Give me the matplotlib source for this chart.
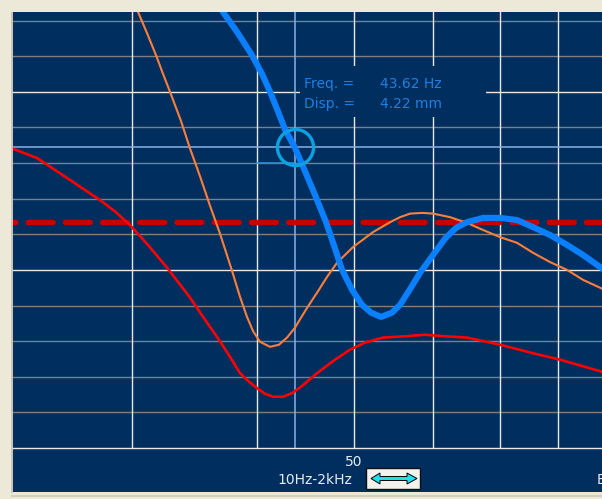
import matplotlib
matplotlib.use("Agg")
import matplotlib.pyplot as plt
from matplotlib.patches import Rectangle, Polygon
from matplotlib.transforms import blended_transform_factory

W, H = 602, 499
NAVY = "#002f5f"
BEIGE = "#ece9d8"

# ---- data -------------------------------------------------------------
# Frequency axis (Hz, log) and displacement axis (mm)
F_LIM = (22.8, 88.5)
D_LIM = (0.0, 6.12)
F_GRID = [30, 40, 50, 60, 70, 80]
F_TICK = [50]
D_MINOR = [0.5, 1.0, 1.5, 2.0, 3.0, 3.5, 4.0, 4.5, 5.5, 6.0]
D_MAJOR = [0.0, 2.5, 5.0]
XMAX_MM = 3.17

CURSOR_F = 43.62
CURSOR_D = 4.22
MARK_SEG_F = [40.0, CURSOR_F]
MARK_SEG_D = [4.0, 4.0]

# driver excursion (thick blue)
blue_f = [36.06, 36.98, 38.28, 39.54, 40.46, 41.21, 41.98, 42.66, 43.62, 44.46,
          45.71, 46.88, 47.75, 48.64, 49.77, 50.93, 52.00, 53.21, 54.57, 55.59,
          56.88, 58.21, 59.98, 61.66, 63.24, 64.86, 67.30, 69.98, 72.78, 75.51,
          78.52, 81.66, 84.72, 88.10, 91.20]
blue_d = [6.36, 6.12, 5.82, 5.51, 5.25, 5.00, 4.72, 4.47, 4.22, 3.95,
          3.55, 3.17, 2.84, 2.50, 2.22, 2.01, 1.90, 1.84, 1.90, 2.01,
          2.23, 2.46, 2.71, 2.94, 3.09, 3.17, 3.23, 3.23, 3.20, 3.10,
          2.99, 2.85, 2.71, 2.54, 2.42]

# second excursion curve (orange)
orange_f = [30.20, 30.41, 31.05, 31.70, 32.21, 32.73, 33.57, 34.28, 35.08, 35.89,
            36.72, 37.67, 38.46, 39.08, 39.63, 40.27, 41.21, 42.07, 42.85, 43.65,
            44.26, 44.98, 45.92, 46.98, 48.08, 49.88, 52.23, 54.32, 55.59, 56.88,
            58.48, 59.98, 62.37, 64.86, 67.30, 69.98, 72.78, 75.51, 78.52, 81.66,
            84.72, 88.10, 91.20]
orange_d = [6.36, 6.12, 5.82, 5.51, 5.25, 5.00, 4.59, 4.20, 3.81, 3.40,
            3.01, 2.53, 2.12, 1.84, 1.64, 1.49, 1.42, 1.45, 1.55, 1.69,
            1.83, 1.99, 2.18, 2.40, 2.60, 2.82, 3.03, 3.17, 3.24, 3.29,
            3.30, 3.29, 3.24, 3.16, 3.06, 2.96, 2.88, 2.74, 2.61, 2.50,
            2.36, 2.25, 2.14]

# third excursion curve (red)
red_f = [22.39, 22.80, 24.10, 25.82, 27.86, 28.84, 29.85, 31.11, 32.51, 34.28,
         35.48, 36.47, 37.58, 38.46, 39.26, 40.00, 40.74, 41.50, 42.46, 43.35,
         44.26, 45.92, 47.64, 49.54, 51.28, 53.45, 56.49, 58.88, 61.37, 64.86,
         69.98, 75.51, 80.35, 88.51, 91.20]
red_d = [4.24, 4.20, 4.07, 3.79, 3.48, 3.32, 3.13, 2.85, 2.53, 2.11,
         1.80, 1.56, 1.28, 1.05, 0.93, 0.84, 0.76, 0.72, 0.72, 0.77,
         0.86, 1.05, 1.22, 1.38, 1.48, 1.55, 1.57, 1.59, 1.57, 1.55,
         1.45, 1.33, 1.24, 1.07, 1.01]

FREQ_LABEL = "Freq. ="
DISP_LABEL = "Disp. ="
RANGE_LABEL = "10Hz-2kHz"

# ---- figure -----------------------------------------------------------
plt.rcParams["lines.scale_dashes"] = False
fig = plt.figure(figsize=(W / 100, H / 100), dpi=100, facecolor=BEIGE)


def fx(x):
    return x / W


def fy(y):
    return 1 - y / H


# panel frame (behind the axes)
fig.add_artist(Rectangle((fx(11), fy(493)), fx(2), 481 / H, transform=fig.transFigure,
                         facecolor="#c9c6b8", edgecolor="none", zorder=-5))
fig.add_artist(Rectangle((fx(13), fy(492)), 1 - fx(13), 480 / H, transform=fig.transFigure,
                         facecolor=NAVY, edgecolor="none", zorder=-4))
fig.add_artist(Rectangle((fx(11), fy(497)), 1, 2 / H, transform=fig.transFigure,
                         facecolor="#d2cfc2", edgecolor="none", zorder=-5))

ax = fig.add_axes([fx(13), fy(448), 1 - fx(13), (448 - 12) / H])
ax.set_facecolor(NAVY)
ax.set_xscale("log")
ax.set_xlim(*F_LIM)
ax.set_ylim(*D_LIM)
for s in ax.spines.values():
    s.set_visible(False)
ax.set_xticks([])
ax.set_yticks([])
ax.minorticks_off()

# grid
for d in D_MINOR:
    ax.axhline(d, color="#7f7f7f", lw=1.0, zorder=1)
for d in D_MAJOR:
    ax.axhline(d, color="#e8e8e8", lw=1.0, zorder=1.2, clip_on=False)
for f in F_GRID:
    ax.axvline(f, color="#e8e8e8", lw=1.0, zorder=1.1)

# readout box covers the grid underneath
fig.add_artist(Rectangle((fx(300), fy(117)), fx(186), 51 / H, transform=fig.transFigure,
                         facecolor=NAVY, edgecolor="none", zorder=3))

# cursor cross-hair
ax.axvline(CURSOR_F, color="#8ab0e8", lw=1.1, zorder=2)
ax.axhline(CURSOR_D, color="#8ab0e8", lw=1.1, zorder=2)
ax.plot(MARK_SEG_F, MARK_SEG_D, color="#2a90dc", lw=1.1, zorder=2.1)

# excursion limit
ax.axhline(XMAX_MM, color="#c80000", lw=3.9, linestyle=(16.3, (18, 8.8)),
           dash_capstyle="round", zorder=3)

# curves
ax.plot(red_f, red_d, color="#ff0000", lw=1.9, zorder=4)
ax.plot(orange_f, orange_d, color="#ff7f3a", lw=1.5, zorder=5)
ax.plot(blue_f, blue_d, color="#0a80ff", lw=4.4, zorder=6, solid_capstyle="round")

# cursor marker
ax.plot([CURSOR_F], [CURSOR_D], marker="o", ms=26, mfc="none", mec="#0aa2e2",
        mew=2.4, zorder=7)

# readout text
tcol = "#1d7fe2"
fig.text(fx(304), fy(88), FREQ_LABEL, color=tcol, fontsize=10, ha="left",
         va="baseline", zorder=8)
fig.text(fx(304), fy(108), DISP_LABEL, color=tcol, fontsize=10, ha="left",
         va="baseline", zorder=8)
fig.text(fx(442), fy(88), f"{CURSOR_F:.2f} Hz", color=tcol, fontsize=10,
         ha="right", va="baseline", zorder=8)
fig.text(fx(442), fy(108), f"{CURSOR_D:.2f} mm", color=tcol, fontsize=10,
         ha="right", va="baseline", zorder=8)

# frequency tick label
trans = blended_transform_factory(ax.transData, fig.transFigure)
for f in F_TICK:
    fig.text(f, fy(466), str(f), transform=trans, color="#e4eaf2", fontsize=10,
             ha="center", va="baseline")

fig.text(fx(315), fy(484), RANGE_LABEL, color="#e4eaf2", fontsize=10,
         ha="center", va="baseline")
fig.text(fx(597), fy(484), "E", color="#e4eaf2", fontsize=10, ha="left",
         va="baseline")

# range button
fig.add_artist(Rectangle((fx(366), fy(489)), fx(54), 21 / H, transform=fig.transFigure,
                         facecolor="#f2f2ee", edgecolor="#101010", lw=1.0))
arrow_px = [(371, 478.5), (380, 473), (380, 476.5), (407, 476.5), (407, 473),
            (417, 478.5), (407, 484), (407, 480.5), (380, 480.5), (380, 484)]
fig.add_artist(Polygon([(fx(x), fy(y)) for x, y in arrow_px], closed=True,
                       transform=fig.transFigure, facecolor="#20e0f0",
                       edgecolor="#000000", lw=0.7))

fig.savefig("out.png", dpi=100, facecolor=BEIGE)
